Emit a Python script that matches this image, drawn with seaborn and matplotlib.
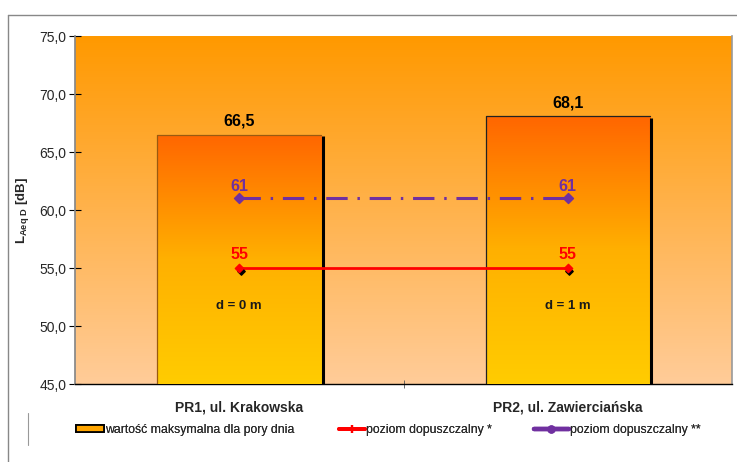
import numpy as np
import pandas as pd
import matplotlib
matplotlib.use("Agg")
import matplotlib.pyplot as plt
from matplotlib.colors import LinearSegmentedColormap
from matplotlib.lines import Line2D
from matplotlib.patches import Patch
import seaborn as sns

# --- data ---
points = ["PR1, ul. Krakowska", "PR2, ul. Zawierciańska"]
max_day = [66.5, 68.1]
distances = ["d = 0 m", "d = 1 m"]
limit_1 = [55, 55]
limit_2 = [61, 61]
y_ticks = [45.0, 50.0, 55.0, 60.0, 65.0, 70.0, 75.0]
legend_labels = ["wartość maksymalna dla pory dnia", "poziom dopuszczalny *",
                 "poziom dopuszczalny **"]

sns.set_theme(style="white")
plt.rcParams["font.family"] = ["Liberation Sans", "DejaVu Sans"]

fig = plt.figure(figsize=(7.37, 4.62), dpi=100)
ax = fig.add_axes([75 / 737, 1 - 384 / 462, 657 / 737, 348 / 462])

df = pd.DataFrame({"punkt": points, "wartosc": max_day})
sns.barplot(data=df, x="punkt", y="wartosc", ax=ax, width=0.5,
            color="#FF9900", edgecolor="none", zorder=2)

ax.set_xlim(-0.5, 1.5)
ax.set_ylim(45, 75)

# plot-area gradient background
bg_cmap = LinearSegmentedColormap.from_list("bg", ["#FFCC99", "#FF9900"])
grad = np.linspace(0, 1, 256).reshape(-1, 1)
ax.imshow(grad, cmap=bg_cmap, aspect="auto", origin="lower",
          extent=(-0.5, 1.5, 45, 75), zorder=0)

# bar gradient fills clipped to each bar
bar_cmap = LinearSegmentedColormap.from_list("bar", ["#FFCC00", "#FFB000", "#FF6600"])
edge_cols = ["#9a5a10", "#222222"]
for patch, ec in zip(ax.patches, edge_cols):
    x0 = patch.get_x()
    w = patch.get_width()
    h = patch.get_y() + patch.get_height()
    im = ax.imshow(grad, cmap=bar_cmap, aspect="auto", origin="lower",
                   extent=(x0, x0 + w, 45, h), zorder=3)
    im.set_clip_path(patch)
    patch.set_facecolor("none")
    # thin outline left/top, heavy shadow on the right
    ax.plot([x0, x0, x0 + w], [45, h, h], color=ec, lw=0.9, zorder=4)
    ax.plot([x0 + w + 0.004, x0 + w + 0.004], [45, h - 0.15], color="black",
            lw=2.2, zorder=4, solid_capstyle="butt")

ax.set_xlim(-0.5, 1.5)
ax.set_ylim(45, 75)

# permissible levels
xs = [0, 1]
sns.lineplot(x=xs, y=limit_2, ax=ax, color="#7030A0", lw=2.2,
             linestyle=(0, (7, 3.2, 0.8, 3.2)), zorder=6)
sns.lineplot(x=xs, y=limit_1, ax=ax, color="#FF0000", lw=2.0, zorder=6)
ax.scatter([x + 0.004 for x in xs], [v - 0.25 for v in limit_1], marker="D",
           s=14, color="black", zorder=6)
ax.scatter(xs, limit_1, marker="D", s=18, color="#FF0000", zorder=7)
ax.scatter(xs, limit_2, marker="D", s=26, color="#7030A0", zorder=7)

for x, v in zip(xs, limit_2):
    ax.text(x, v + 0.35, f"{v}", color="#7030A0", fontsize=11.5,
            fontweight="bold", ha="center", va="bottom", zorder=8)
for x, v in zip(xs, limit_1):
    ax.text(x, v + 0.5, f"{v}", color="#FF0000", fontsize=11.5,
            fontweight="bold", ha="center", va="bottom", zorder=8)

# value labels and distances
for x, v in enumerate(max_day):
    ax.text(x, v + 0.5, f"{v:.1f}".replace(".", ","), fontsize=11.5,
            fontweight="bold", ha="center", va="bottom", color="black", zorder=8)
for x, d in enumerate(distances):
    ax.text(x, 51.7, d, fontsize=9.5, fontweight="bold", ha="center",
            va="center", color="#1a1a1a", zorder=8)

# axes styling
ax.set_yticks(y_ticks)
ax.set_yticklabels([f"{t:.1f}".replace(".", ",") for t in y_ticks], fontsize=10)
ax.set_xticks([0, 1])
ax.set_xticklabels(points, fontsize=10, fontweight="bold")
ax.set_xlabel("")
ax.set_ylabel(r"L$_{\mathregular{Aeq\ D}}$ [dB]", fontsize=9.5, fontweight="bold")
ax.yaxis.set_label_coords(-0.067, 0.5)
ax.tick_params(axis="y", which="both", left=True, length=8, width=0.8,
               color="black", pad=2, direction="inout")
ax.tick_params(axis="x", bottom=False, pad=6)
ax.set_xticks([0.5], minor=True)
ax.tick_params(axis="x", which="minor", bottom=True, length=6, width=0.6,
               color="#555555", direction="inout")
ax.spines["top"].set_visible(False)
ax.spines["left"].set_color("#888888")
ax.spines["right"].set_color("#999999")
ax.spines["right"].set_linewidth(1.2)
ax.spines["bottom"].set_color("black")
ax.spines["bottom"].set_linewidth(1.0)
ax.grid(False)

# legend entries, each placed on its own
handles = [
    Patch(facecolor="#FFA500", edgecolor="black", linewidth=1.3),
    Line2D([0], [0], color="#FF0000", lw=2.8, marker="|", markersize=6,
           markeredgewidth=1.6),
    Line2D([0, 1], [0, 0], color="#7030A0", lw=3.2, marker="o", markersize=5,
           markevery=[0, -1]),
]
anchors = [76, 339, 534]
lengths = [2.3, 2.15, 2.85]
for h, lab, ax_px, hl in zip(handles, legend_labels, anchors, lengths):
    leg = fig.legend([h], [lab], loc="center left",
                     bbox_to_anchor=(ax_px / 737, 1 - 430 / 462), frameon=False,
                     fontsize=8.8, handlelength=hl, handletextpad=0.1,
                     handleheight=0.5, borderaxespad=0, borderpad=0,
                     labelcolor="#2a2a2a")
    fig.add_artist(leg)

# outer frame and legend marker line
fig.add_artist(Line2D([8 / 737, 8 / 737], [0, 1 - 15 / 462], color="#888888",
                      lw=1.0, transform=fig.transFigure))
fig.add_artist(Line2D([8 / 737, 1], [1 - 15 / 462, 1 - 15 / 462],
                      color="#888888", lw=1.0, transform=fig.transFigure))
fig.add_artist(Line2D([28 / 737, 28 / 737], [1 - 413 / 462, 1 - 445 / 462],
                      color="#999999", lw=0.8, transform=fig.transFigure))

fig.savefig("out.png", dpi=100, facecolor="white")
